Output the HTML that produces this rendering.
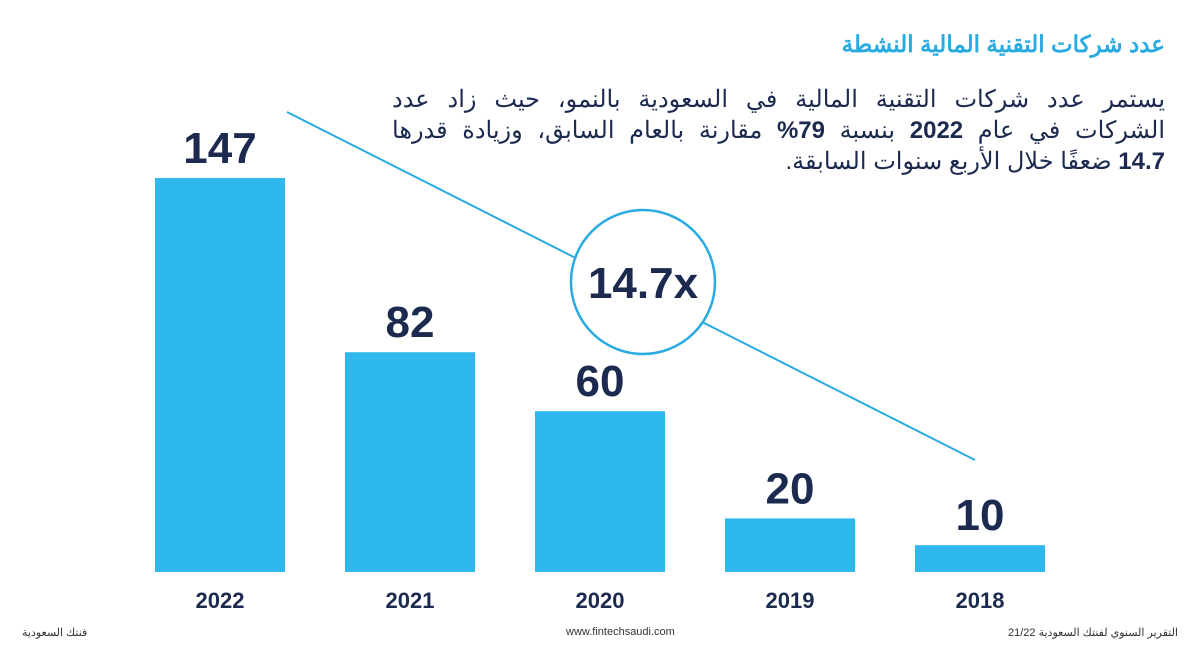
<!DOCTYPE html>
<html><head><meta charset="utf-8"><style>
body{margin:0;width:1200px;height:648px;background:#fff;overflow:hidden;font-family:"Liberation Sans","Noto Sans CJK SC",sans-serif;position:relative}
.t{position:absolute;right:35px;direction:rtl;text-align:right;white-space:nowrap}
.ln{position:absolute;right:35px;width:773px;direction:rtl;font-size:24px;color:#1b2a4e;white-space:nowrap;text-align:justify;text-align-last:justify}
</style></head><body>
<div class="t" style="top:31px;font-size:23px;font-weight:bold;color:#29abe2">عدد شركات التقنية المالية النشطة</div>
<div>
<div class="ln" style="top:85px">يستمر عدد شركات التقنية المالية في السعودية بالنمو، حيث زاد عدد</div>
<div class="ln" style="top:116px">الشركات في عام <b>2022</b> بنسبة <b>79%</b> مقارنة بالعام السابق، وزيادة قدرها</div>
<div class="ln" style="top:147px;text-align-last:right;text-align:right">&#8203;<b>14.7</b> ضعفًا خلال الأربع سنوات السابقة.</div>
</div>
<svg id="c" width="1200" height="648" style="position:absolute;left:0;top:0"></svg>
<div style="position:absolute;left:22px;top:626px;font-size:11px;color:#333">فنتك السعودية</div>
<div style="position:absolute;left:566px;top:626px;font-size:11px;color:#333">www.fintechsaudi.com</div>
<div style="position:absolute;right:22px;top:626px;font-size:11px;color:#333;direction:rtl">التقرير السنوي لفنتك السعودية 21/22</div>
<script>
const years=["2022","2021","2020","2019","2018"];
const values=[147,82,60,20,10];
const multiplier="14.7x";
const svg=document.getElementById('c');
const NS="http://www.w3.org/2000/svg";
const base=572,scale=2.68,x0=155,step=190,bw=130;
const xPos=i=>x0+i*step;
const yPos=v=>base-v*scale;
function mk(t,a){const e=document.createElementNS(NS,t);for(const k in a)e.setAttribute(k,a[k]);svg.appendChild(e);return e;}
let l=mk('line',{x1:287,y1:112,x2:975,y2:460,stroke:'#29abe2','stroke-width':2});


let c=mk('circle',{cx:643,cy:282,r:72,fill:'#fff',stroke:'#29abe2','stroke-width':2.5});


let mt=mk('text',{x:643,y:298,'text-anchor':'middle','font-size':44,'font-weight':'bold',fill:'#1b2a4e','font-family':'Liberation Sans'});
mt.textContent=multiplier;


values.forEach((v,i)=>{
 const x=xPos(i),y=yPos(v);
 let r=mk('rect',{x:x,y:y,width:bw,height:base-y,fill:'#2eb8ee'});
 
 
 let t=mk('text',{x:x+bw/2,y:y-15,'text-anchor':'middle','font-size':44,'font-weight':'bold',fill:'#1b2a4e','font-family':'Liberation Sans'});
 t.textContent=v;
 
 
 let yl=mk('text',{x:x+bw/2,y:608,'text-anchor':'middle','font-size':22,'font-weight':'bold',fill:'#1b2a4e','font-family':'Liberation Sans'});
 yl.textContent=years[i];
 
 
});
</script>
</body></html>
